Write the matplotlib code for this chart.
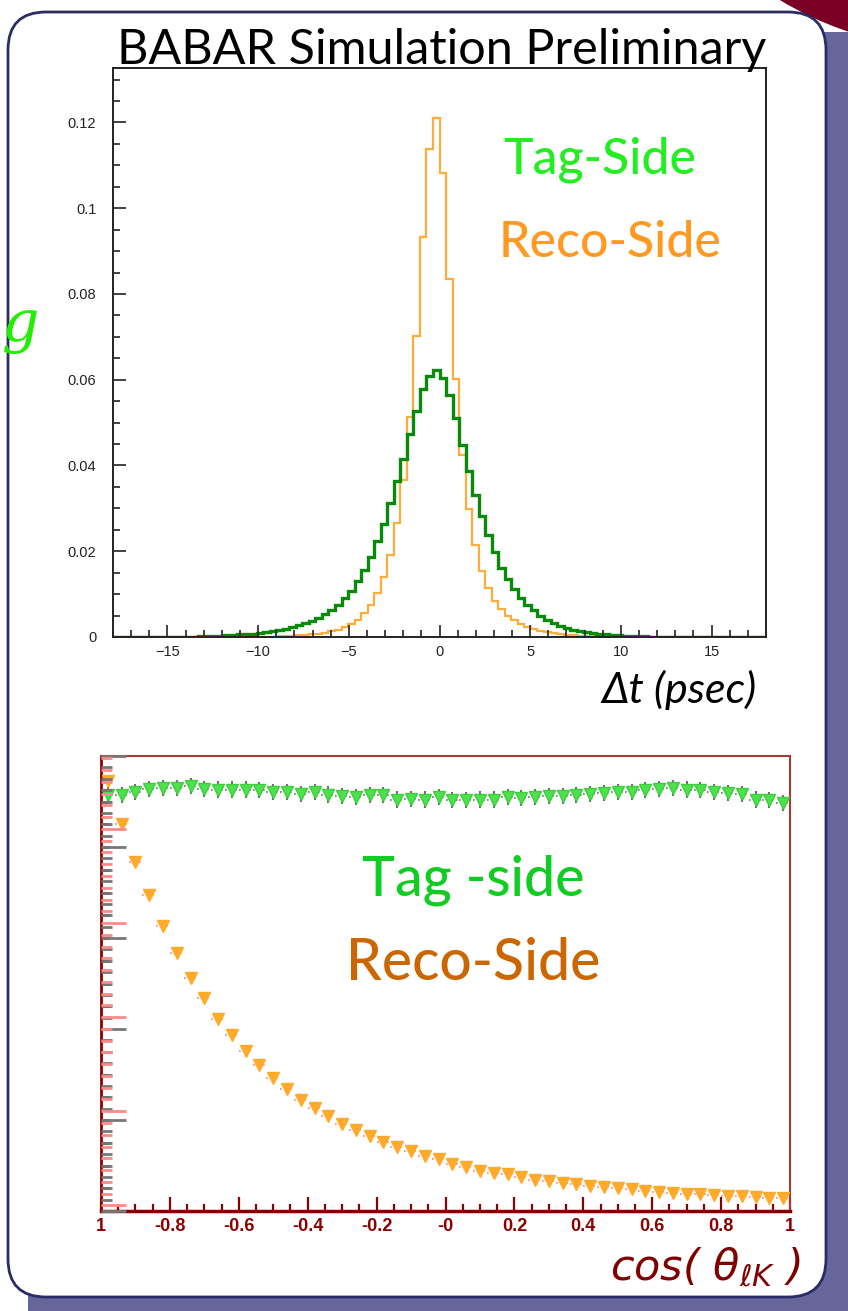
import matplotlib.pyplot as plt
import numpy as np
from matplotlib.patches import FancyBboxPatch, Circle
from matplotlib.ticker import MultipleLocator

W, H = 848, 1311

# Delta t distributions: 100 bins from -18 to 18 ps, each normalised to unit sum
dt_edges = np.linspace(-18, 18, 101)
tag_dt = [0, 0, 0, 0, 0, 0, 0, 0, 0, 0,
          0, 0.0001, 0.0001, 0.0002, 0.0002, 0.0003, 0.0003, 0.0004, 0.0005, 0.0006,
          0.0007, 0.0008, 0.0010, 0.0012, 0.0014, 0.0016, 0.0019, 0.0023, 0.0027, 0.0032,
          0.0038, 0.0045, 0.0053, 0.0063, 0.0075, 0.0090, 0.0108, 0.0131, 0.0157, 0.0187,
          0.0224, 0.0263, 0.0312, 0.0364, 0.0416, 0.0474, 0.0528, 0.0578, 0.0608, 0.0623,
          0.0605, 0.0565, 0.0511, 0.0448, 0.0388, 0.0332, 0.0282, 0.0237, 0.0198, 0.0162,
          0.0136, 0.0111, 0.0092, 0.0074, 0.0062, 0.0049, 0.0040, 0.0032, 0.0026, 0.0021,
          0.0017, 0.0014, 0.0011, 0.0009, 0.0007, 0.0006, 0.0005, 0.0004, 0.0003, 0.0003,
          0.0002, 0.0002, 0.0001, 0.0001, 0.0001, 0, 0, 0, 0, 0,
          0, 0, 0, 0, 0, 0, 0, 0, 0, 0]
reco_dt = [0, 0, 0, 0, 0, 0, 0, 0, 0, 0,
           0, 0, 0, 0, 0, 0, 0, 0, 0, 0,
           0, 0, 0.0001, 0.0001, 0.0001, 0.0002, 0.0002, 0.0003, 0.0004, 0.0005,
           0.0006, 0.0008, 0.0010, 0.0013, 0.0017, 0.0023, 0.0030, 0.0040, 0.0055, 0.0074,
           0.0103, 0.0139, 0.0191, 0.0266, 0.0367, 0.0512, 0.0703, 0.0932, 0.1139, 0.1210,
           0.1081, 0.0836, 0.0602, 0.0424, 0.0299, 0.0215, 0.0154, 0.0114, 0.0085, 0.0066,
           0.0050, 0.0039, 0.0030, 0.0024, 0.0019, 0.0015, 0.0012, 0.0009, 0.0007, 0.0005,
           0.0004, 0.0003, 0.0002, 0.0002, 0.0001, 0.0001, 0, 0, 0, 0,
           0, 0, 0, 0, 0, 0, 0, 0, 0, 0,
           0, 0, 0, 0, 0, 0, 0, 0, 0, 0]
dt_ticks = [-15, -10, -5, 0, 5, 10, 15]
dt_ticklabels = ['\u221215', '\u221210', '\u22125', '0', '5', '10', '15']
frac_ticks = [0, 0.02, 0.04, 0.06, 0.08, 0.10, 0.12]
frac_ticklabels = ['0', '0.02', '0.04', '0.06', '0.08', '0.1', '0.12']

# cos(theta_lK): 50 bins from -1 to 1, relative efficiency (arbitrary units)
cos_edges = np.linspace(-1, 1, 51)
tag_eff = [0.914, 0.914, 0.921, 0.928, 0.930, 0.930, 0.934, 0.928, 0.926, 0.926,
           0.926, 0.925, 0.921, 0.921, 0.917, 0.921, 0.915, 0.912, 0.910, 0.914,
           0.914, 0.904, 0.906, 0.904, 0.910, 0.903, 0.903, 0.904, 0.904, 0.910,
           0.908, 0.910, 0.912, 0.912, 0.914, 0.917, 0.919, 0.921, 0.921, 0.925,
           0.928, 0.930, 0.926, 0.925, 0.921, 0.919, 0.916, 0.904, 0.903, 0.897]
reco_eff = [0.946, 0.851, 0.767, 0.694, 0.627, 0.567, 0.513, 0.469, 0.422, 0.386,
            0.352, 0.320, 0.292, 0.269, 0.245, 0.226, 0.208, 0.192, 0.179, 0.164,
            0.152, 0.141, 0.131, 0.120, 0.114, 0.104, 0.097, 0.089, 0.084, 0.081,
            0.075, 0.069, 0.066, 0.062, 0.059, 0.056, 0.053, 0.051, 0.048, 0.043,
            0.042, 0.040, 0.038, 0.037, 0.035, 0.034, 0.032, 0.031, 0.029, 0.029]
tag_err = 0.018
cos_ticks = [-1, -0.8, -0.6, -0.4, -0.2, 0, 0.2, 0.4, 0.6, 0.8, 1]
cos_ticklabels = ['1', '-0.8', '-0.6', '-0.4', '-0.2', '-0', '0.2', '0.4', '0.6', '0.8', '1']


def px_axes(fig, left, top, right, bottom):
    return fig.add_axes([left / W, 1 - bottom / H, (right - left) / W, (bottom - top) / H])


fig = plt.figure(figsize=(W / 100, H / 100), dpi=100)
fig.patch.set_facecolor('white')

# slide background
bg = fig.add_axes([0, 0, 1, 1])
bg.set_xlim(0, W)
bg.set_ylim(H, 0)
bg.axis('off')
bg.add_patch(FancyBboxPatch((28, 32), 860, 1320, boxstyle='round,pad=0,rounding_size=40',
                            facecolor='#66669a', edgecolor='none'))
bg.add_patch(Circle((960, -300), 350, facecolor='#7a0025', edgecolor='none'))
bg.add_patch(Circle((905, 1362), 75, facecolor='#7a0025', edgecolor='none'))
bg.add_patch(FancyBboxPatch((8, 12), 818, 1285, boxstyle='round,pad=0,rounding_size=38',
                            facecolor='white', edgecolor='#2b2b66', linewidth=2))

# upper panel: Delta t
ax = px_axes(fig, 113, 68, 766, 637)
ax.stairs(reco_dt, dt_edges, color='#ffad3a', linewidth=1.6)
ax.stairs(tag_dt, dt_edges, color='#0a8a0a', linewidth=2.4)
ax.set_xlim(-18, 18)
ax.set_ylim(0, 0.1327)
ax.set_xticks(dt_ticks)
ax.set_xticklabels(dt_ticklabels)
ax.set_yticks(frac_ticks)
ax.set_yticklabels(frac_ticklabels)
ax.xaxis.set_minor_locator(MultipleLocator(1))
ax.yaxis.set_minor_locator(MultipleLocator(0.005))
ax.tick_params(which='both', direction='in', top=False, right=False, color='#222222',
               width=1.2, labelsize=10.5, labelcolor='#222222', labelfontfamily='Liberation Sans')
ax.tick_params(which='major', length=9)
ax.tick_params(which='minor', length=5)
ax.tick_params(axis='y', pad=12)
ax.tick_params(axis='x', pad=6)
for s in ax.spines.values():
    s.set_color('#222222')
    s.set_linewidth(1.4)

fig.text(442 / W, 1 - 64 / H, 'BABAR Simulation Preliminary', ha='center', va='baseline',
         fontsize=35, family='Lato', color='black')
fig.text(600 / W, 1 - 160 / H, 'Tag-Side', ha='center', va='center',
         fontsize=36, family='Lato', weight='medium', color='#22ee22')
fig.text(610 / W, 1 - 243 / H, 'Reco-Side', ha='center', va='center',
         fontsize=36, family='Lato', weight='medium', color='#ff9922')
fig.text(757 / W, 1 - 690 / H, '\u0394t (psec)', ha='right', va='center',
         fontsize=31, family='Lato', style='italic', color='black')
fig.text(2 / W, 1 - 326 / H, 'g', ha='left', va='center',
         fontsize=42, family='DejaVu Serif', style='italic', color='#22ee00')

# lower panel: cos(theta_lK)
axb = px_axes(fig, 101, 756, 790, 1211)
centers = 0.5 * (cos_edges[:-1] + cos_edges[1:])
half = 0.5 * np.diff(cos_edges)

for frac_ylim, col in [((0, 1.0), '#777777'), ((-0.012, 0.955), '#ff8a8a')]:
    tw = axb.twinx()
    tw.set_ylim(*frac_ylim)
    tw.yaxis.tick_left()
    tw.yaxis.set_major_locator(MultipleLocator(0.2))
    tw.yaxis.set_minor_locator(MultipleLocator(0.025))
    tw.tick_params(which='both', direction='in', color=col, width=2, labelleft=False,
                   labelright=False)
    tw.tick_params(which='major', length=18)
    tw.tick_params(which='minor', length=8)
    for s in tw.spines.values():
        s.set_visible(False)

xe = axb.errorbar(centers, reco_eff, xerr=half, fmt='none', ecolor='#ff8080', elinewidth=1.2)
xe[2][0].set_linestyle((0, (1, 2)))
axb.plot(centers, reco_eff, 'v', color='#ffaa2a', ms=8, mec='#ffaa2a', zorder=4)

axb.errorbar(centers, tag_eff, yerr=tag_err, fmt='none', ecolor='#707070', elinewidth=1.5)
xe = axb.errorbar(centers, tag_eff, xerr=half, fmt='none', ecolor='#707070', elinewidth=1.2)
xe[2][0].set_linestyle((0, (1, 2)))
axb.plot(centers, tag_eff, 'v', color='#4ee04e', ms=8, mec='#3cd03c', zorder=4)

axb.set_xlim(-1, 1)
axb.set_ylim(0, 1)
axb.set_xticks(cos_ticks)
axb.set_xticklabels(cos_ticklabels)
axb.xaxis.set_minor_locator(MultipleLocator(0.05))
axb.yaxis.set_major_locator(MultipleLocator(0.1))
axb.yaxis.set_minor_locator(MultipleLocator(0.05))
axb.tick_params(axis='y', which='both', direction='in', color='#8b0000', width=2,
                length=6, labelleft=False)
axb.tick_params(axis='x', which='both', direction='in', color='#8b0000', width=1.6,
                labelsize=13, labelcolor='#8b0000', pad=5)
axb.tick_params(axis='x', which='major', length=10)
axb.tick_params(axis='x', which='minor', length=5)
for lab in axb.get_xticklabels():
    lab.set_fontweight('bold')
    lab.set_family('Liberation Sans')
for s in axb.spines.values():
    s.set_color('#a33a3a')
    s.set_linewidth(1.5)
axb.spines['bottom'].set_color('#800000')
axb.spines['bottom'].set_linewidth(2.5)
axb.spines['left'].set_color('#8b0000')
axb.spines['left'].set_linewidth(2)

fig.text(473 / W, 1 - 880 / H, 'Tag -side', ha='center', va='center',
         fontsize=40, family='Lato', weight='medium', color='#11cc22')
fig.text(473 / W, 1 - 963 / H, 'Reco-Side', ha='center', va='center',
         fontsize=41, family='Lato', weight='medium', color='#cc6600')
fig.text(800 / W, 1 - 1268 / H, r'cos( $\theta_{\ell K}$ )', ha='right', va='center',
         fontsize=31, family='DejaVu Sans', style='italic', color='#800000')

fig.savefig('out.png', dpi=100)
